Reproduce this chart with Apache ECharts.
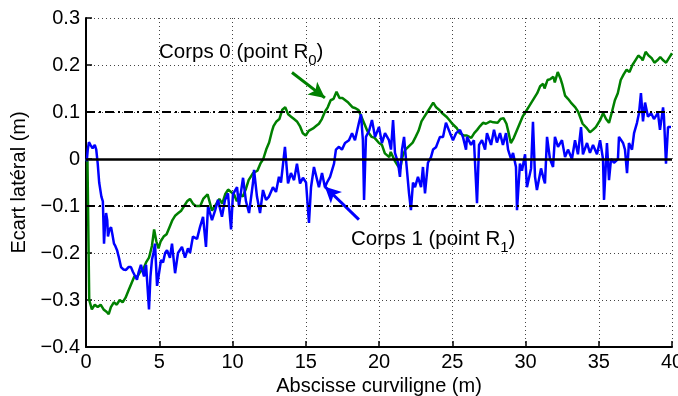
<!DOCTYPE html>
<html>
<head>
<meta charset="utf-8">
<script src="https://cdn.jsdelivr.net/npm/echarts@6/dist/echarts.min.js"></script>
<style>
  html, body { margin: 0; background: #fff; }
  #chart { width: 678px; height: 396px; }
</style>
</head>
<body>
<div id="chart"></div>
<script>
// Corps 0 (point R0) : [abscisse curviligne (m), ecart lateral (m)]
const corps0 = [
  [0, 0], [0.1, -0.005], [0.22, -0.3], [0.4, -0.32], [0.6, -0.31], [0.8, -0.315], [1.0, -0.31], [1.2, -0.32],
  [1.4, -0.325], [1.55, -0.33], [1.7, -0.315], [1.9, -0.305], [2.1, -0.31], [2.3, -0.3], [2.5, -0.305], [2.7, -0.295],
  [2.9, -0.28], [3.1, -0.265], [3.3, -0.25], [3.5, -0.25], [3.7, -0.24], [3.9, -0.235], [4.1, -0.22], [4.3, -0.21],
  [4.5, -0.185], [4.65, -0.15], [4.8, -0.175], [4.95, -0.19], [5.1, -0.175], [5.3, -0.165], [5.5, -0.16], [5.7, -0.145],
  [5.9, -0.13], [6.1, -0.12], [6.3, -0.115], [6.5, -0.11], [6.7, -0.1], [6.9, -0.09], [7.1, -0.085], [7.3, -0.095],
  [7.5, -0.1], [7.8, -0.1], [8.0, -0.085], [8.3, -0.075], [8.6, -0.11], [8.9, -0.095], [9.1, -0.085], [9.3, -0.095],
  [9.5, -0.075], [9.7, -0.065], [9.9, -0.07], [10.1, -0.075], [10.3, -0.09], [10.5, -0.075], [10.7, -0.08], [10.9, -0.065],
  [11.1, -0.045], [11.4, -0.03], [11.7, -0.025], [11.9, -0.01], [12.1, 0.0], [12.3, 0.02], [12.5, 0.035], [12.7, 0.06],
  [12.8, 0.07], [13.0, 0.08], [13.2, 0.085], [13.4, 0.105], [13.6, 0.11], [13.8, 0.095], [14.0, 0.09], [14.2, 0.085],
  [14.4, 0.08], [14.6, 0.07], [14.8, 0.055], [15.0, 0.05], [15.2, 0.06], [15.5, 0.065], [15.7, 0.07], [15.9, 0.075],
  [16.1, 0.085], [16.3, 0.1], [16.5, 0.11], [16.7, 0.125], [16.9, 0.128], [17.1, 0.143], [17.3, 0.13], [17.5, 0.13],
  [17.7, 0.125], [17.9, 0.12], [18.2, 0.11], [18.4, 0.108], [18.6, 0.104], [18.8, 0.09], [19.0, 0.075], [19.2, 0.06],
  [19.5, 0.047], [19.7, 0.045], [20.0, 0.034], [20.2, 0.03], [20.4, 0.012], [20.7, 0.004], [20.8, 0.015], [21.1, -0.005],
  [21.3, -0.015], [21.45, -0.02], [21.6, 0.005], [21.8, 0.02], [22.0, 0.026], [22.3, 0.035], [22.5, 0.047], [22.7, 0.06],
  [22.9, 0.08], [23.1, 0.09], [23.3, 0.1], [23.5, 0.11], [23.7, 0.12], [23.9, 0.11], [24.1, 0.105], [24.3, 0.098],
  [24.6, 0.09], [24.8, 0.083], [25.0, 0.075], [25.3, 0.066], [25.5, 0.055], [25.8, 0.05], [26.0, 0.05], [26.3, 0.045],
  [26.5, 0.055], [26.7, 0.062], [26.9, 0.07], [27.1, 0.077], [27.3, 0.075], [27.6, 0.08], [27.8, 0.078], [28.1, 0.077],
  [28.3, 0.085], [28.5, 0.087], [28.7, 0.075], [28.8, 0.062], [29.0, 0.034], [29.2, 0.045], [29.4, 0.06], [29.6, 0.075],
  [29.8, 0.09], [30.0, 0.1], [30.2, 0.11], [30.4, 0.12], [30.6, 0.13], [30.8, 0.14], [31.0, 0.155], [31.2, 0.16],
  [31.3, 0.15], [31.5, 0.168], [31.7, 0.17], [31.9, 0.175], [32.0, 0.163], [32.2, 0.185], [32.4, 0.17], [32.5, 0.16],
  [32.7, 0.135], [32.9, 0.128], [33.1, 0.12], [33.4, 0.11], [33.6, 0.1], [33.9, 0.075], [34.2, 0.065], [34.4, 0.057],
  [34.6, 0.062], [34.8, 0.068], [35.1, 0.083], [35.3, 0.098], [35.5, 0.085], [35.7, 0.077], [35.9, 0.1], [36.1, 0.125],
  [36.3, 0.14], [36.5, 0.168], [36.7, 0.18], [36.9, 0.19], [37.1, 0.185], [37.3, 0.2], [37.5, 0.21], [37.7, 0.22],
  [37.9, 0.215], [38.0, 0.21], [38.2, 0.228], [38.4, 0.22], [38.6, 0.215], [38.8, 0.205], [39.0, 0.21], [39.2, 0.217],
  [39.4, 0.21], [39.6, 0.205], [39.8, 0.215], [40.0, 0.225]
];

// Corps 1 (point R1)
const corps1 = [
  [0.05, -0.005], [0.12, 0.02], [0.2, 0.036], [0.3, 0.03], [0.45, 0.023], [0.6, 0.03], [0.7, 0.02], [0.8, -0.01],
  [0.9, -0.05], [1.05, -0.08], [1.15, -0.09], [1.23, -0.18], [1.3, -0.14], [1.37, -0.115], [1.45, -0.13], [1.5, -0.165],
  [1.6, -0.15], [1.71, -0.145], [1.8, -0.16], [1.91, -0.18], [2.0, -0.185], [2.12, -0.194], [2.25, -0.21], [2.39, -0.23],
  [2.55, -0.235], [2.73, -0.236], [2.9, -0.23], [3.07, -0.23], [3.2, -0.24], [3.28, -0.243], [3.48, -0.257], [3.6, -0.24],
  [3.75, -0.225], [3.96, -0.25], [4.1, -0.225], [4.16, -0.222], [4.3, -0.32], [4.4, -0.25], [4.5, -0.215], [4.6, -0.2],
  [4.71, -0.18], [4.85, -0.27], [5.0, -0.24], [5.12, -0.215], [5.26, -0.22], [5.4, -0.2], [5.53, -0.194], [5.73, -0.21],
  [5.87, -0.18], [6.08, -0.243], [6.28, -0.2], [6.55, -0.187], [6.76, -0.21], [6.96, -0.19], [7.1, -0.2], [7.3, -0.165],
  [7.58, -0.17], [7.78, -0.145], [7.99, -0.123], [8.19, -0.187], [8.33, -0.1], [8.6, -0.13], [8.81, -0.11], [9.01, -0.087],
  [9.28, -0.123], [9.49, -0.087], [9.69, -0.073], [9.9, -0.15], [10.03, -0.075], [10.31, -0.06], [10.44, -0.1], [10.72, -0.04],
  [10.92, -0.09], [11.13, -0.115], [11.4, -0.05], [11.47, -0.023], [11.67, -0.08], [11.88, -0.115], [12.08, -0.066], [12.29, -0.087],
  [12.49, -0.08], [12.76, -0.06], [12.97, -0.07], [13.17, -0.038], [13.31, -0.05], [13.58, 0.026], [13.79, -0.052], [13.99, -0.03],
  [14.2, -0.045], [14.4, -0.01], [14.61, -0.052], [14.81, -0.04], [15.02, -0.05], [15.22, -0.136], [15.36, -0.06], [15.56, -0.017],
  [15.63, -0.02], [15.9, -0.06], [16.11, -0.03], [16.31, -0.06], [16.45, -0.05], [16.66, -0.038], [16.93, -0.01], [17.06, 0.02],
  [17.27, 0.026], [17.47, 0.02], [17.68, 0.034], [17.95, 0.04], [18.16, 0.055], [18.36, 0.04], [18.63, 0.077], [18.77, 0.095],
  [18.9, 0.04], [18.98, -0.087], [19.11, 0.047], [19.32, 0.06], [19.52, 0.083], [19.73, 0.047], [20.0, 0.068], [20.2, 0.034],
  [20.41, 0.055], [20.68, 0.04], [20.82, 0.02], [20.96, 0.083], [21.09, 0.013], [21.3, -0.008], [21.43, -0.038], [21.57, 0.02],
  [21.71, 0.047], [21.84, 0.0], [22.05, -0.073], [22.18, -0.109], [22.32, -0.05], [22.46, -0.06], [22.66, -0.038], [22.87, -0.06],
  [23.0, -0.017], [23.14, -0.073], [23.34, -0.008], [23.55, 0.004], [23.69, 0.02], [23.89, 0.025], [24.16, 0.047], [24.37, 0.047],
  [24.57, 0.077], [24.85, 0.055], [25.05, 0.04], [25.26, 0.055], [25.53, 0.062], [25.73, 0.047], [25.94, 0.02], [26.01, 0.047],
  [26.28, 0.03], [26.48, 0.04], [26.69, -0.094], [26.83, 0.03], [27.03, 0.04], [27.24, 0.02], [27.37, 0.055], [27.65, 0.03],
  [27.85, 0.062], [28.05, 0.035], [28.26, 0.055], [28.46, 0.03], [28.67, 0.055], [28.81, 0.02], [29.01, 0.0], [29.15, 0.013],
  [29.35, -0.017], [29.42, -0.109], [29.62, -0.01], [29.76, -0.025], [29.97, 0.01], [30.1, -0.06], [30.38, -0.02], [30.51, 0.079],
  [30.65, -0.038], [30.78, -0.066], [31.06, -0.02], [31.26, -0.045], [31.33, -0.052], [31.47, 0.047], [31.67, 0.0], [31.88, -0.017],
  [32.01, 0.047], [32.22, 0.026], [32.49, 0.04], [32.7, 0.004], [32.9, 0.02], [33.17, 0.0], [33.38, 0.04], [33.58, 0.01],
  [33.79, 0.068], [33.92, 0.01], [34.2, 0.034], [34.4, 0.013], [34.61, 0.03], [34.88, 0.01], [35.09, 0.04], [35.29, 0.0],
  [35.36, -0.087], [35.56, 0.034], [35.7, -0.045], [35.84, 0.0], [36.04, -0.008], [36.31, 0.0], [36.38, 0.047], [36.66, 0.034],
  [36.79, 0.02], [36.93, -0.03], [37.06, 0.034], [37.27, 0.02], [37.41, 0.055], [37.61, 0.077], [37.75, 0.098], [37.88, 0.14],
  [38.02, 0.08], [38.16, 0.12], [38.36, 0.09], [38.57, 0.098], [38.77, 0.085], [39.04, 0.098], [39.18, 0.062], [39.39, 0.11],
  [39.45, 0.09], [39.59, -0.01], [39.73, 0.068], [39.93, 0.068]
];

// lignes de reference (m)
const seuils = [0.1, -0.1];
const zeroLine = 0;

// annotations : fleches [depart, arrivee] et position des textes
const fleche0 = [[14.06, 0.184], [16.31, 0.130]];
const fleche1 = [[18.63, -0.129], [16.31, -0.059]];
const texte0 = [4.98, 0.221];
const texte1 = [18.09, -0.177];

const FONT = "'Liberation Sans', Arial, Helvetica, sans-serif";
// t : texte normal, s : indice, h : jeton vide qui donne la hauteur de ligne
const rich = {
  t: { fontSize: 20.5, lineHeight: 22, verticalAlign: 'top', color: '#000', fontFamily: FONT },
  s: { fontSize: 15, lineHeight: 16, verticalAlign: 'bottom', color: '#000', fontFamily: FONT },
  h: { fontSize: 10, lineHeight: 27, width: 1 }
};

const chart = echarts.init(document.getElementById('chart'));

const option = {
  animation: false,
  textStyle: { fontFamily: FONT, color: '#000' },
  grid: { left: 86, right: 6, top: 18, bottom: 49, outerBoundsMode: 'none', containLabel: false },
  xAxis: {
    type: 'value',
    min: 0, max: 40, interval: 5,
    name: 'Abscisse curviligne (m)',
    nameLocation: 'middle',
    nameGap: 25,
    nameTextStyle: { fontSize: 20, color: '#000' },
    axisLine: { show: true, onZero: false, lineStyle: { color: '#000', width: 2 } },
    axisTick: { inside: true, length: 6, lineStyle: { color: '#000', width: 1.5 } },
    axisLabel: { fontSize: 20, color: '#000', margin: 5 },
    splitLine: { show: true, lineStyle: { color: '#444', width: 1, type: [1, 3] } }
  },
  yAxis: {
    type: 'value',
    min: -0.4, max: 0.3, interval: 0.1,
    name: 'Ecart latéral (m)',
    nameLocation: 'middle',
    nameGap: 52,
    nameTextStyle: { fontSize: 20, color: '#000' },
    axisLine: { show: true, onZero: false, lineStyle: { color: '#000', width: 2 } },
    axisTick: { inside: true, length: 6, lineStyle: { color: '#000', width: 1.5 } },
    axisLabel: {
      fontSize: 20, color: '#000', margin: 6,
      formatter: v => Math.abs(v) < 1e-9 ? '0' : v.toFixed(1).replace('-', '\u2212')
    },
    splitLine: { show: true, lineStyle: { color: '#444', width: 1, type: [1, 3] } }
  },
  series: [
    {
      name: 'Corps 0',
      type: 'line',
      data: corps0,
      showSymbol: false,
      lineStyle: { color: '#008000', width: 2.5 },
      z: 2,
      markLine: {
        silent: true, symbol: 'none', label: { show: false },
        lineStyle: { color: '#008000', width: 3, type: 'solid' },
        data: [[
          { coord: fleche0[0], symbol: 'none' },
          { coord: fleche0[1], symbol: 'arrow', symbolSize: [12, 16] }
        ]]
      },
      markPoint: {
        silent: true, symbolSize: 0,
        label: {
          show: true, position: 'right', distance: 0,
          formatter: '{t|Corps 0 (point R}{s|0}{t|)}{h| }', rich: rich
        },
        data: [{ coord: texte0 }]
      }
    },
    {
      name: 'Corps 1',
      type: 'line',
      data: corps1,
      showSymbol: false,
      lineStyle: { color: '#0000ff', width: 2.5 },
      z: 3,
      markLine: {
        silent: true, symbol: 'none', label: { show: false },
        lineStyle: { color: '#0000ff', width: 3, type: 'solid' },
        data: [[
          { coord: fleche1[0], symbol: 'none' },
          { coord: fleche1[1], symbol: 'arrow', symbolSize: [12, 16] }
        ]]
      },
      markPoint: {
        silent: true, symbolSize: 0,
        label: {
          show: true, position: 'right', distance: 0,
          formatter: '{t|Corps 1 (point R}{s|1}{t|)}{h| }', rich: rich
        },
        data: [{ coord: texte1 }]
      }
    },
    {
      name: 'seuils',
      type: 'line',
      data: [],
      z: 4,
      markLine: {
        silent: true, symbol: 'none', label: { show: false },
        data: [
          { yAxis: zeroLine, lineStyle: { color: '#000', width: 2.5, type: 'solid' } },
          ...seuils.map(s => ({ yAxis: s, lineStyle: { color: '#000', width: 2, type: [9, 4, 2, 4] } }))
        ]
      }
    }
  ]
};

chart.setOption(option);
</script>
</body>
</html>
